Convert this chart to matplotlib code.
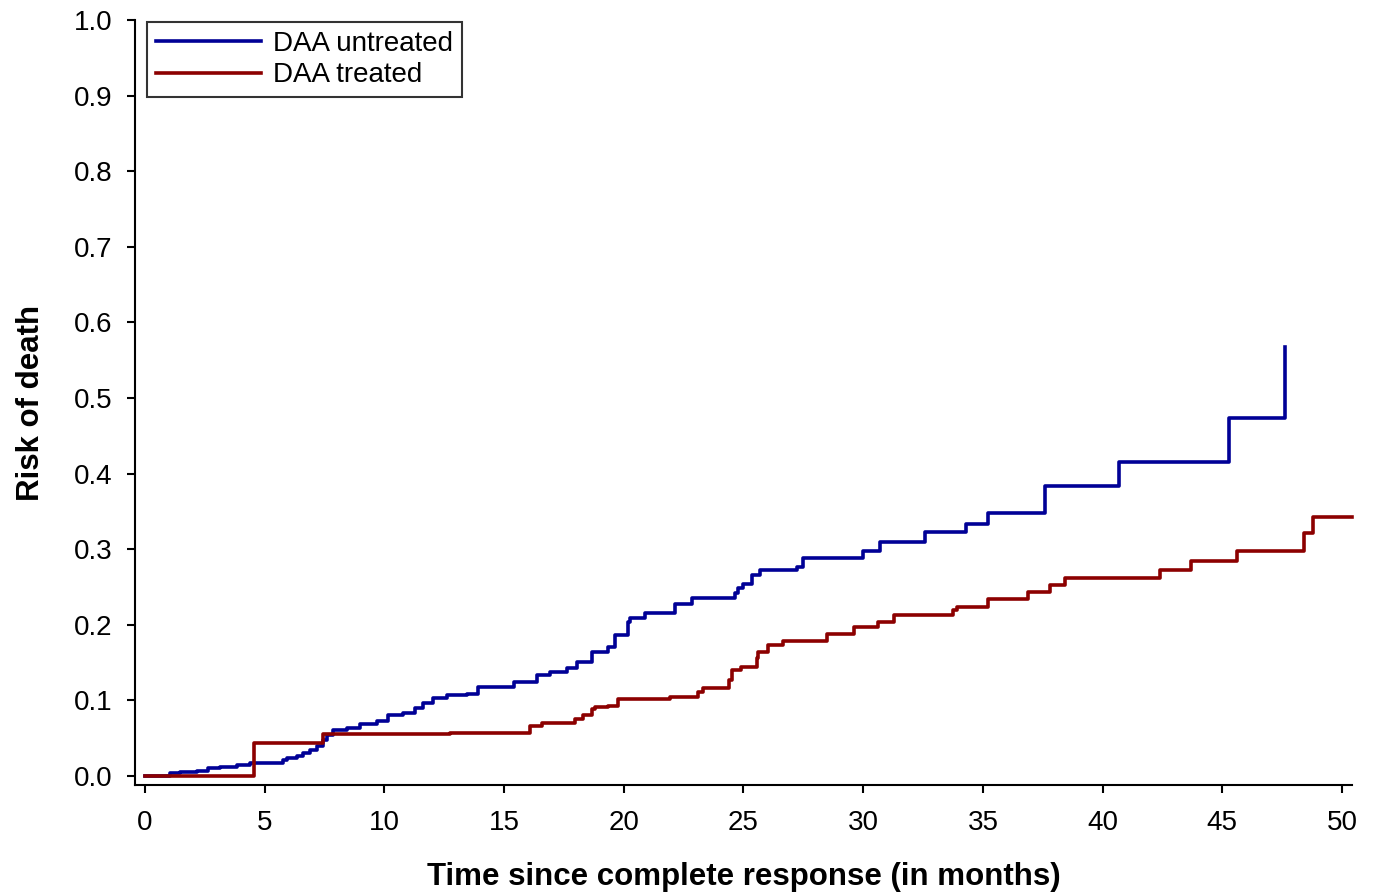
import matplotlib
matplotlib.use("Agg")
import matplotlib.pyplot as plt

# ---- data ----
t_untreated = [0, 1.04, 1.46, 2.16, 2.63, 3.13, 3.83, 4.39, 5.78, 5.92, 6.34, 6.61, 6.89,
               7.17, 7.45, 7.59, 7.87, 8.42, 8.98, 9.68, 10.16, 10.79, 11.28, 11.63, 12.04,
               12.6, 13.44, 13.92, 15.4, 16.36, 16.92, 17.61, 18.03, 18.66, 19.35, 19.63,
               20.19, 20.26, 20.89, 22.14, 22.84, 24.64, 24.78, 24.99, 25.34, 25.69, 27.22,
               27.47, 30.0, 30.7, 32.6, 34.3, 35.2, 37.6, 40.7, 45.3, 47.6]
r_untreated = [0, 0.0035, 0.005, 0.007, 0.0106, 0.012, 0.015, 0.0176, 0.021, 0.024, 0.026,
               0.030, 0.034, 0.040, 0.0476, 0.054, 0.061, 0.063, 0.0688, 0.073, 0.0807,
               0.0837, 0.0895, 0.097, 0.1026, 0.107, 0.109, 0.118, 0.124, 0.1336, 0.138,
               0.1424, 0.151, 0.164, 0.171, 0.1865, 0.204, 0.209, 0.215, 0.228, 0.235,
               0.2425, 0.248, 0.2546, 0.266, 0.2725, 0.277, 0.289, 0.298, 0.310, 0.323,
               0.333, 0.348, 0.384, 0.415, 0.473, 0.567]

t_treated = [0, 4.55, 7.42, 12.74, 16.08, 16.6, 17.96, 18.3, 18.66, 18.8, 19.35, 19.77,
             21.93, 23.1, 23.3, 24.4, 24.5, 24.9, 25.55, 25.6, 26.04, 26.67, 28.5, 29.6,
             30.6, 31.3, 33.75, 33.9, 35.2, 36.9, 37.8, 38.45, 42.4, 43.7, 45.6, 48.4,
             48.8, 50.4]
r_treated = [0, 0.043, 0.0556, 0.0575, 0.066, 0.0696, 0.075, 0.0807, 0.088, 0.0906,
             0.0926, 0.1014, 0.105, 0.1115, 0.117, 0.127, 0.140, 0.1446, 0.1556, 0.164,
             0.1733, 0.179, 0.188, 0.197, 0.204, 0.213, 0.219, 0.224, 0.234, 0.244, 0.252,
             0.262, 0.273, 0.284, 0.298, 0.321, 0.343, 0.343]

x_ticks = [0, 5, 10, 15, 20, 25, 30, 35, 40, 45, 50]
y_ticks = [0.0, 0.1, 0.2, 0.3, 0.4, 0.5, 0.6, 0.7, 0.8, 0.9, 1.0]
labels = ["DAA untreated", "DAA treated"]
colors = ["#000096", "#8c0000"]

plt.rcParams['font.family'] = ['Liberation Sans', 'DejaVu Sans']

fig = plt.figure(figsize=(13.76, 8.96), dpi=100)
ax = fig.add_axes([0.0981, 0.1239, 0.8845, 0.8538])

ax.step(t_untreated, r_untreated, where='post', color=colors[0], lw=2.6,
        label=labels[0], clip_on=False, zorder=3)
ax.step(t_treated, r_treated, where='post', color=colors[1], lw=2.6,
        label=labels[1], clip_on=False, zorder=3)

ax.set_xlim(-0.418, 50.42)
ax.set_ylim(-0.0119, 1.0)
ax.set_xticks(x_ticks)
ax.set_xticklabels([str(v) for v in x_ticks])
ax.set_yticks(y_ticks)
ax.set_yticklabels([f"{v:.1f}" for v in y_ticks])

for s in ['top', 'right']:
    ax.spines[s].set_visible(False)
for s in ['left', 'bottom']:
    ax.spines[s].set_linewidth(1.5)

ax.tick_params(axis='both', direction='out', length=6, width=1.5, labelsize=20)
ax.tick_params(axis='y', pad=10)
ax.tick_params(axis='x', pad=12)

ax.set_xlabel("Time since complete response (in months)", fontsize=22.5,
              fontweight='bold', labelpad=19)
ax.set_ylabel("Risk of death", fontsize=22.5, fontweight='bold', labelpad=20)

leg = ax.legend(loc='upper left', bbox_to_anchor=(0.0099, 0.997), borderaxespad=0,
                fontsize=20, frameon=True, fancybox=False, handlelength=3.77,
                handletextpad=0.45, borderpad=0.32, labelspacing=0.19)
leg.get_frame().set_edgecolor('black')
leg.get_frame().set_linewidth(1.5)
for line in leg.get_lines():
    line.set_linewidth(2.6)

fig.savefig("out.png", dpi=100)
